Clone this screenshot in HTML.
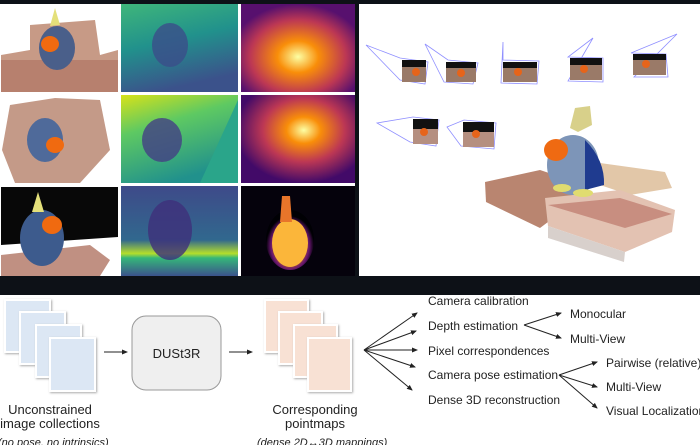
<!DOCTYPE html>
<html><head><meta charset="utf-8"><style>
html,body{margin:0;padding:0;background:#fff;}
svg{display:block;}
text{font-family:"Liberation Sans","DejaVu Sans",sans-serif;fill:#222;}
</style></head><body>
<svg width="700" height="445" viewBox="0 0 700 445" xmlns="http://www.w3.org/2000/svg">
<defs>
<linearGradient id="v1" x1="0" y1="0" x2="0.3" y2="1"><stop offset="0" stop-color="#3fb67a"/><stop offset="0.5" stop-color="#21918c"/><stop offset="1" stop-color="#3b528b"/></linearGradient>
<linearGradient id="v2" x1="0" y1="0" x2="0.4" y2="1"><stop offset="0" stop-color="#d8e219"/><stop offset="0.4" stop-color="#5ec962"/><stop offset="1" stop-color="#21918c"/></linearGradient>
<linearGradient id="v3" x1="0" y1="0" x2="0" y2="1"><stop offset="0" stop-color="#3e4a89"/><stop offset="0.6" stop-color="#31688e"/><stop offset="0.75" stop-color="#b5de2b"/><stop offset="0.8" stop-color="#35b779"/><stop offset="1" stop-color="#3b528b"/></linearGradient>
<radialGradient id="i1" cx="0.5" cy="0.6" r="0.6"><stop offset="0" stop-color="#fcffa4"/><stop offset="0.3" stop-color="#f98e09"/><stop offset="0.7" stop-color="#bc3754"/><stop offset="1" stop-color="#57106e"/></radialGradient>
<radialGradient id="i2" cx="0.55" cy="0.4" r="0.6"><stop offset="0" stop-color="#fcffa4"/><stop offset="0.25" stop-color="#f98e09"/><stop offset="0.6" stop-color="#bc3754"/><stop offset="1" stop-color="#420a68"/></radialGradient>
<radialGradient id="i3" cx="0.5" cy="0.6" r="0.5"><stop offset="0" stop-color="#fcffa4"/><stop offset="0.4" stop-color="#f98e09"/><stop offset="0.8" stop-color="#65156e"/><stop offset="1" stop-color="#000004"/></radialGradient>
<marker id="ah" markerWidth="6" markerHeight="6" refX="5" refY="3" orient="auto" markerUnits="userSpaceOnUse"><path d="M0,0.5 L6,3 L0,5.5z" fill="#222"/></marker>
</defs>
<rect x="0" y="0" width="700" height="4" fill="#0d1117"/>
<rect x="0" y="276" width="700" height="19" fill="#0d1117"/>
<rect x="355" y="0" width="4" height="276" fill="#0d1117"/>
<rect x="0" y="4" width="355" height="272" fill="#fff"/>
<!-- column 1 photos -->
<g>
<rect x="1" y="4" width="117" height="88" fill="#fff"/>
<polygon points="30,25 95,20 100,55 118,50 118,92 1,92 1,55 30,50" fill="#c79a86"/>
<rect x="1" y="60" width="117" height="32" fill="#b7806e"/>
<ellipse cx="57" cy="48" rx="18" ry="22" fill="#4a5f8a"/>
<ellipse cx="50" cy="44" rx="9" ry="8" fill="#f06a10"/>
<polygon points="55,8 60,25 50,26" fill="#e4e07a"/>
<rect x="1" y="95" width="117" height="88" fill="#fff"/>
<polygon points="10,105 55,98 100,100 110,150 80,183 15,183 2,150" fill="#c49a88"/>
<ellipse cx="45" cy="140" rx="18" ry="22" fill="#4f6a9a"/>
<ellipse cx="55" cy="145" rx="9" ry="8" fill="#f06a10"/>
<rect x="1" y="186" width="117" height="90" fill="#fff"/>
<polygon points="1,187 118,187 118,237 1,245" fill="#080808"/>
<polygon points="1,255 90,245 110,260 100,276 1,276" fill="#c09082"/>
<ellipse cx="42" cy="238" rx="22" ry="28" fill="#3d5b8d"/>
<ellipse cx="52" cy="225" rx="10" ry="9" fill="#f06a10"/>
<polygon points="38,192 44,212 32,212" fill="#e4e07a"/>
</g>
<!-- column 2 -->
<rect x="121" y="4" width="117" height="88" fill="url(#v1)"/>
<ellipse cx="170" cy="45" rx="18" ry="22" fill="#3b4d8a" opacity="0.8"/>
<rect x="121" y="95" width="117" height="88" fill="url(#v2)"/>
<polygon points="238,100 238,183 200,183" fill="#2aa58a"/>
<ellipse cx="162" cy="140" rx="20" ry="22" fill="#433e85" opacity="0.8"/>
<rect x="121" y="186" width="117" height="90" fill="url(#v3)"/>
<ellipse cx="170" cy="230" rx="22" ry="30" fill="#3e2f7a" opacity="0.8"/>
<!-- column 3 -->
<rect x="241" y="4" width="114" height="88" fill="url(#i1)"/>
<rect x="241" y="95" width="114" height="88" fill="url(#i2)"/>
<rect x="241" y="186" width="114" height="90" fill="#05020c"/>
<ellipse cx="290" cy="240" rx="24" ry="30" fill="url(#i3)"/>
<ellipse cx="290" cy="243" rx="18" ry="24" fill="#fbb63a"/>
<polygon points="282,196 290,196 292,222 280,222" fill="#e8752a"/>
<!-- right 3D area -->
<rect x="359" y="4" width="341" height="272" fill="#fff"/>
<g stroke="#8f8fff" stroke-width="0.8" fill="none">
<polygon points="366,45 400,58 428,62 425,84 400,80"/>
<polygon points="425,44 448,60 478,63 473,84 444,82"/>
<polygon points="503,42 503,60 539,61 537,84 501,83"/>
<polygon points="593,38 568,57 603,58 603,82 568,81"/>
<polygon points="677,34 631,53 666,54 668,77 634,77"/>
<polygon points="377,123 413,117 439,120 436,146 410,142"/>
<polygon points="447,127 464,120 496,123 494,149 461,146"/>
</g>
<g>
<rect x="402" y="60" width="24" height="22" fill="#9a7a68"/><rect x="402" y="60" width="24" height="7" fill="#111"/>
<rect x="446" y="62" width="30" height="20" fill="#9a7a68"/><rect x="446" y="62" width="30" height="6" fill="#111"/>
<rect x="503" y="62" width="34" height="20" fill="#9a7a68"/><rect x="503" y="62" width="34" height="6" fill="#111"/>
<rect x="570" y="58" width="32" height="22" fill="#9a7a68"/><rect x="570" y="58" width="32" height="7" fill="#111"/>
<rect x="633" y="54" width="33" height="21" fill="#9a7a68"/><rect x="633" y="54" width="33" height="6" fill="#111"/>
<rect x="413" y="119" width="25" height="25" fill="#b58f80"/><rect x="413" y="119" width="25" height="10" fill="#111"/>
<rect x="463" y="122" width="31" height="25" fill="#b58f80"/><rect x="463" y="122" width="31" height="10" fill="#111"/>
<circle cx="416" cy="72" r="4" fill="#e6641a"/><circle cx="461" cy="73" r="4" fill="#e6641a"/><circle cx="518" cy="72" r="4" fill="#e6641a"/><circle cx="584" cy="69" r="4" fill="#e6641a"/><circle cx="646" cy="64" r="4" fill="#e6641a"/><circle cx="424" cy="132" r="4" fill="#e6641a"/><circle cx="476" cy="134" r="4" fill="#e6641a"/>
</g>
<polygon points="600,163 665,172 672,188 630,195 600,185" fill="#e2c7a8"/>
<polygon points="485,182 540,170 585,185 548,222 540,228 486,202" fill="#b98570"/>
<polygon points="545,198 620,190 675,210 672,232 625,252 548,226" fill="#e3c2b2"/>
<polygon points="548,205 620,198 672,214 625,228" fill="#c88e80"/>
<polygon points="548,226 625,252 624,262 548,238" fill="#d8d0cc"/>
<ellipse cx="573" cy="165" rx="26" ry="30" fill="#7d95b8"/>
<path d="M585,140 Q605,160 604,185 L585,190 Z" fill="#1f3b8f"/>
<ellipse cx="556" cy="150" rx="12" ry="11" fill="#ef6a12"/>
<polygon points="575,108 590,106 592,125 578,132 570,128" fill="#d8d08a"/>
<ellipse cx="562" cy="188" rx="9" ry="4" fill="#e0dc70"/><ellipse cx="583" cy="193" rx="10" ry="4" fill="#e0dc70"/>
<!-- bottom diagram -->
<g>
<rect x="5" y="300" width="45" height="52" fill="#dce7f4" stroke="#fff" stroke-width="2" style="filter:drop-shadow(1px 1px 1px #aaa)"/>
<rect x="20" y="312" width="45" height="52" fill="#dce7f4" stroke="#fff" stroke-width="2" style="filter:drop-shadow(1px 1px 1px #aaa)"/>
<rect x="36" y="325" width="45" height="52" fill="#dce7f4" stroke="#fff" stroke-width="2" style="filter:drop-shadow(1px 1px 1px #aaa)"/>
<rect x="50" y="338" width="45" height="53" fill="#dce7f4" stroke="#fff" stroke-width="2" style="filter:drop-shadow(1px 1px 1px #aaa)"/>
<rect x="265" y="300" width="43" height="52" fill="#f8e1d4" stroke="#fff" stroke-width="2" style="filter:drop-shadow(1px 1px 1px #aaa)"/>
<rect x="279" y="312" width="43" height="52" fill="#f8e1d4" stroke="#fff" stroke-width="2" style="filter:drop-shadow(1px 1px 1px #aaa)"/>
<rect x="294" y="325" width="43" height="52" fill="#f8e1d4" stroke="#fff" stroke-width="2" style="filter:drop-shadow(1px 1px 1px #aaa)"/>
<rect x="308" y="338" width="43" height="53" fill="#f8e1d4" stroke="#fff" stroke-width="2" style="filter:drop-shadow(1px 1px 1px #aaa)"/>
</g>
<rect x="132" y="316" width="89" height="74" rx="14" fill="#efefef" stroke="#999" stroke-width="1"/>
<text x="176.5" y="358" font-size="13" text-anchor="middle">DUSt3R</text>
<g stroke="#222" stroke-width="1" fill="none" marker-end="url(#ah)">
<line x1="104" y1="352" x2="127" y2="352"/>
<line x1="229" y1="352" x2="252" y2="352"/>
<line x1="364" y1="350" x2="417" y2="313"/>
<line x1="364" y1="350" x2="416" y2="331"/>
<line x1="364" y1="350" x2="417" y2="350"/>
<line x1="364" y1="350" x2="415" y2="367"/>
<line x1="364" y1="350" x2="412" y2="390"/>
<line x1="524" y1="325" x2="561" y2="313"/>
<line x1="524" y1="325" x2="561" y2="338"/>
<line x1="559" y1="375" x2="597" y2="362"/>
<line x1="559" y1="375" x2="597" y2="387"/>
<line x1="559" y1="375" x2="597" y2="408"/>
</g>
<g font-size="12">
<text x="428" y="305">Camera calibration</text>
<text x="428" y="330">Depth estimation</text>
<text x="428" y="355">Pixel correspondences</text>
<text x="428" y="379">Camera pose estimation</text>
<text x="428" y="404">Dense 3D reconstruction</text>
<text x="570" y="318">Monocular</text>
<text x="570" y="343">Multi-View</text>
<text x="606" y="367">Pairwise (relative)</text>
<text x="606" y="391">Multi-View</text>
<text x="606" y="415">Visual Localization</text>
</g>
<g font-size="13" text-anchor="middle">
<text x="50" y="414">Unconstrained</text>
<text x="50" y="428">image collections</text>
<text x="315" y="414">Corresponding</text>
<text x="315" y="428">pointmaps</text>
</g>
<text x="-2" y="446" font-size="11" font-style="italic">(no pose, no intrinsics)</text>
<text x="257" y="446" font-size="11" font-style="italic">(dense 2D↔3D mappings)</text>
</svg>
</body></html>
